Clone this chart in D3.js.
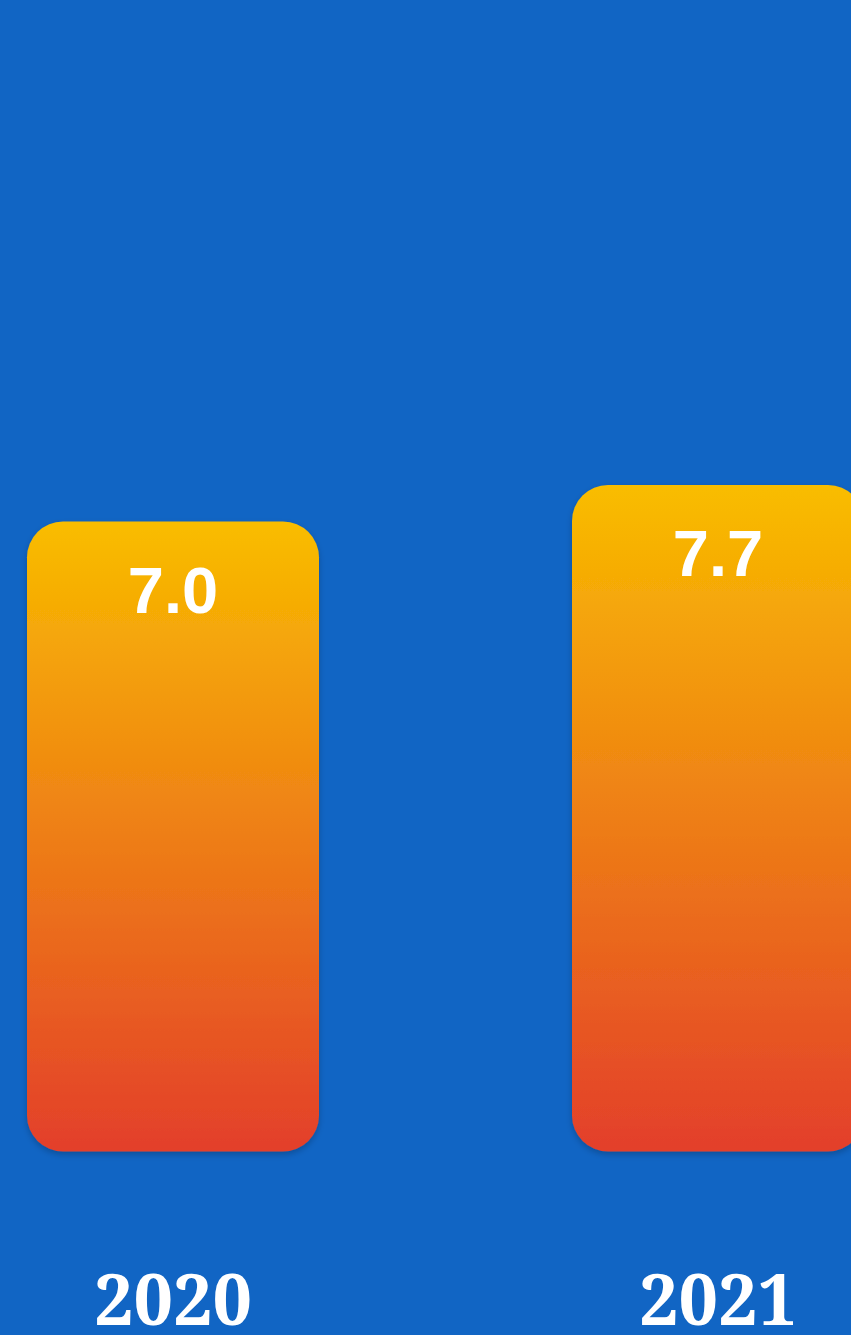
<!DOCTYPE html>
<html>
<head>
<meta charset="utf-8">
<script src="https://cdn.jsdelivr.net/npm/d3@7"></script>
<style>
  html, body { margin: 0; padding: 0; background: #1165C4; overflow: hidden; }
  svg { display: block; }
</style>
</head>
<body>
<svg id="chart" width="851" height="1335"></svg>
<script>
const years = ["2020", "2021"];
const values = [7.0, 7.7];
const valueLabels = ["7.0", "7.7"];

const W = 851, H = 1335;
const svg = d3.select("#chart");

const defs = svg.append("defs");
const grad = defs.append("linearGradient")
  .attr("id", "barGrad").attr("x1", 0).attr("y1", 0).attr("x2", 0).attr("y2", 1);
grad.append("stop").attr("offset", "0%").attr("stop-color", "#F9BD00");
grad.append("stop").attr("offset", "100%").attr("stop-color", "#E33F2B");

const shadow = defs.append("filter").attr("id", "shadow")
  .attr("x", "-10%").attr("y", "-10%").attr("width", "120%").attr("height", "120%");
shadow.append("feDropShadow").attr("dx", 0).attr("dy", 3).attr("stdDeviation", 3)
  .attr("flood-color", "#000").attr("flood-opacity", 0.22);

svg.append("rect").attr("width", W).attr("height", H).attr("fill", "#1165C4");

const baseValue = -5.08;
const x = d3.scaleBand().domain(years).range([27, 864]).paddingInner(253 / 545).paddingOuter(0);
const y = d3.scaleLinear().domain([baseValue, 7.7]).range([1151.5, 485]);

const g = svg.append("g");
const bars = g.selectAll("g.bar").data(years).enter().append("g").attr("class", "bar");

bars.append("rect")
  .attr("x", d => x(d))
  .attr("y", (d, i) => y(values[i]))
  .attr("width", x.bandwidth())
  .attr("height", (d, i) => y(baseValue) - y(values[i]))
  .attr("rx", 36).attr("ry", 36)
  .attr("fill", "url(#barGrad)")
  .attr("filter", "url(#shadow)");

bars.append("text")
  .attr("x", d => x(d) + x.bandwidth() / 2)
  .attr("y", (d, i) => y(values[i]) + 91)
  .attr("text-anchor", "middle")
  .attr("fill", "#fff")
  .attr("font-family", "'Liberation Sans', Arial, sans-serif")
  .attr("font-weight", "bold")
  .attr("font-size", 65)
  .text((d, i) => valueLabels[i]);

bars.append("text")
  .attr("x", d => x(d) + x.bandwidth() / 2)
  .attr("y", 1325)
  .attr("text-anchor", "middle")
  .attr("fill", "#fff")
  .attr("font-family", "'Noto Serif', serif")
  .attr("font-weight", "bold")
  .attr("font-size", 70)
  .text(d => d);
</script>
</body>
</html>
